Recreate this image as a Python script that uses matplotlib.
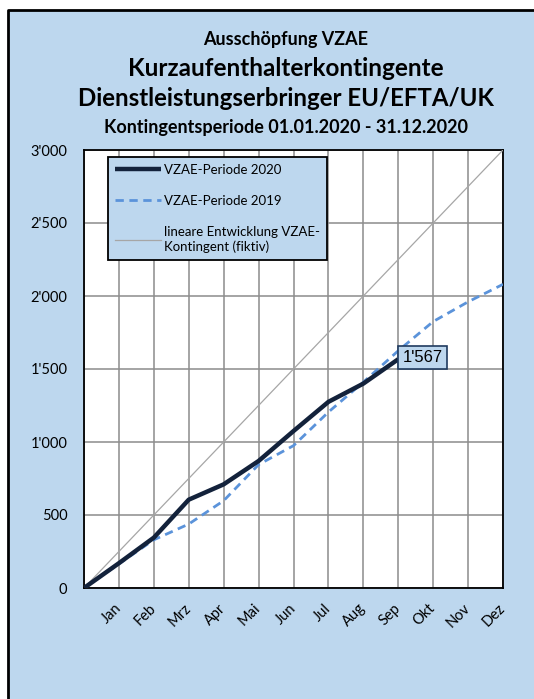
import matplotlib
matplotlib.use("Agg")
import matplotlib.pyplot as plt
from matplotlib.patches import Rectangle
from matplotlib.ticker import FuncFormatter

# data
months = ["", "Jan", "Feb", "Mrz", "Apr", "Mai", "Jun", "Jul", "Aug", "Sep", "Okt", "Nov", "Dez"]
vzae_2020 = [0, 170, 345, 605, 710, 870, 1075, 1275, 1400, 1567]
vzae_2019 = [0, 165, 330, 438, 598, 845, 975, 1205, 1410, 1625, 1825, 1960, 2080]
linear = [0, 3000]
linear_x = [0, 12]
label_2020 = "VZAE-Periode 2020"
label_2019 = "VZAE-Periode 2019"
label_linear = "lineare Entwicklung VZAE-\nKontingent (fiktiv)"

BG = "#BDD7EE"
NAVY = "#13223B"
BLUE = "#5B93DA"
FONT = ["Lato", "DejaVu Sans"]

fig = plt.figure(figsize=(5.34, 6.99), dpi=100)
fig.patch.set_facecolor("white")

# outer light blue panel with black frame (right/bottom edges cut off)
panel = Rectangle((8 / 534, 0), 1.0, 1 - 10 / 699, transform=fig.transFigure,
                  facecolor=BG, edgecolor="none", zorder=-10)
fig.patches.append(panel)
fig.lines.append(plt.Line2D([8 / 534, 8 / 534, 1.0], [0, 1 - 10 / 699, 1 - 10 / 699],
                            transform=fig.transFigure, color="black", lw=2.0, zorder=-5))

ax = fig.add_axes([84 / 534, 1 - 588 / 699, 419 / 534, 438 / 699])
ax.set_facecolor("white")

x20 = list(range(len(vzae_2020)))
x19 = list(range(len(vzae_2019)))
ax.plot(linear_x, linear, color="#A6A6A6", lw=0.9, label=label_linear, zorder=3)
ax.plot(x19, vzae_2019, color=BLUE, lw=2.0, ls=(0, (3, 2)), label=label_2019, zorder=4)
ax.plot(x20, vzae_2020, color=NAVY, lw=3.2, label=label_2020, zorder=5,
        solid_capstyle="butt")

ax.set_xlim(0, 12)
ax.set_ylim(0, 3000)
ax.set_xticks(range(13))
ax.set_xticklabels(months)
ax.set_yticks(range(0, 3001, 500))
ax.yaxis.set_major_formatter(FuncFormatter(lambda v, p: f"{int(v):,}".replace(",", "'")))
ax.grid(True, color="#8C8C8C", lw=1.1)
ax.set_axisbelow(True)
ax.tick_params(length=0, labelsize=10.5)
ax.tick_params(axis="x", pad=13)
ax.tick_params(axis="y", pad=12)
for lab in ax.get_xticklabels():
    lab.set_rotation(45)
    lab.set_ha("right")
    lab.set_va("center")
    lab.set_rotation_mode("anchor")
    lab.set_family(FONT)
for lab in ax.get_yticklabels():
    lab.set_family(FONT)
for sp in ax.spines.values():
    sp.set_color("black")
    sp.set_linewidth(1.3)

# order in legend: 2020, 2019, linear
h, l = ax.get_legend_handles_labels()
leg = ax.legend([h[2], h[1], h[0]], [l[2], l[1], l[0]], loc="upper left",
                bbox_to_anchor=(17 / 419, 1.0), frameon=True, fancybox=False,
                prop={"family": FONT, "size": 9.5}, handlelength=3.5, labelspacing=1.45,
                borderpad=0.55, handletextpad=0.2)
leg.get_frame().set_facecolor(BG)
leg.get_frame().set_alpha(1)
leg.get_frame().set_edgecolor("black")
leg.get_frame().set_linewidth(1.3)

# value label at last 2020 point
ax.annotate(f"{vzae_2020[-1]:,}".replace(",", "'"), xy=(x20[-1], vzae_2020[-1]),
            xytext=(3, 1), textcoords="offset points", ha="left", va="center",
            fontsize=12, family=["Liberation Sans"], zorder=6,
            bbox=dict(boxstyle="square,pad=0.25", fc=BG, ec="#1F3A5F", lw=1.2))

# titles
tkw = dict(ha="center", va="center", weight="bold", family=FONT, color="black")
cx = 286 / 534
fig.text(cx, 1 - 40 / 699, "Ausschöpfung VZAE", fontsize=13, **tkw)
fig.text(cx, 1 - 68 / 699, "Kurzaufenthalterkontingente", fontsize=17.5, **tkw)
fig.text(cx, 1 - 98 / 699, "Dienstleistungserbringer EU/EFTA/UK", fontsize=17.3, **tkw)
fig.text(cx, 1 - 127 / 699, "Kontingentsperiode 01.01.2020 - 31.12.2020", fontsize=13, **tkw)

fig.savefig("out.png", dpi=100)
